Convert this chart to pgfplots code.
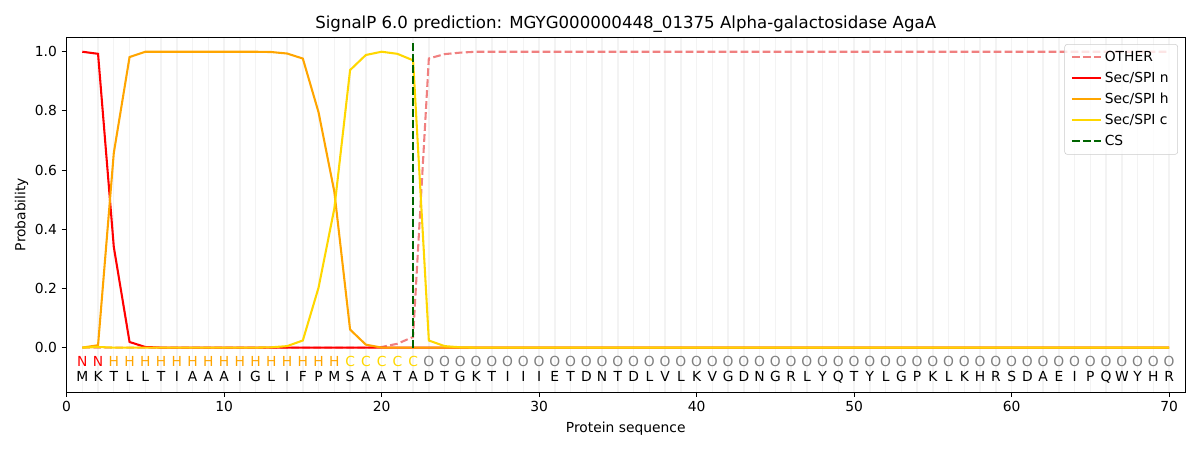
\documentclass[border=0pt]{standalone}
\usepackage{fontspec}
\setmainfont{DejaVu Sans}
\usepackage{pgfplots}
\usepackage{pgfplotstable}
\pgfplotsset{compat=1.18}
\definecolor{lcoral}{HTML}{F08080}
\definecolor{mplorange}{HTML}{FFA500}
\definecolor{mplgold}{HTML}{FFD700}
\definecolor{mplgreen}{HTML}{006400}
\definecolor{gridgray}{RGB}{243,243,243}
\definecolor{legedge}{RGB}{204,204,204}

\pgfplotstableread{
x other n h c
1 0.000 1.000 0.000 0.000
2 0.000 0.993 0.008 0.002
3 0.000 0.340 0.658 0.000
4 0.000 0.019 0.982 0.000
5 0.000 0.002 1.000 0.000
6 0.000 0.000 1.000 0.000
7 0.000 0.000 1.000 0.000
8 0.000 0.000 1.000 0.000
9 0.000 0.000 1.000 0.000
10 0.000 0.000 1.000 0.000
11 0.000 0.000 1.000 0.000
12 0.000 0.000 1.000 0.000
13 0.000 0.000 0.999 0.001
14 0.000 0.000 0.994 0.005
15 0.000 0.000 0.977 0.024
16 0.000 0.000 0.795 0.203
17 0.000 0.000 0.527 0.470
18 0.000 0.000 0.061 0.938
19 0.000 0.000 0.010 0.989
20 0.002 0.000 0.000 1.000
21 0.013 0.000 0.000 0.993
22 0.036 0.000 0.000 0.971
23 0.977 0.000 0.000 0.024
24 0.992 0.000 0.000 0.005
25 0.997 0.000 0.000 0.001
26 1.000 0.000 0.000 0.000
27 1.000 0.000 0.000 0.000
28 1.000 0.000 0.000 0.000
29 1.000 0.000 0.000 0.000
30 1.000 0.000 0.000 0.000
31 1.000 0.000 0.000 0.000
32 1.000 0.000 0.000 0.000
33 1.000 0.000 0.000 0.000
34 1.000 0.000 0.000 0.000
35 1.000 0.000 0.000 0.000
36 1.000 0.000 0.000 0.000
37 1.000 0.000 0.000 0.000
38 1.000 0.000 0.000 0.000
39 1.000 0.000 0.000 0.000
40 1.000 0.000 0.000 0.000
41 1.000 0.000 0.000 0.000
42 1.000 0.000 0.000 0.000
43 1.000 0.000 0.000 0.000
44 1.000 0.000 0.000 0.000
45 1.000 0.000 0.000 0.000
46 1.000 0.000 0.000 0.000
47 1.000 0.000 0.000 0.000
48 1.000 0.000 0.000 0.000
49 1.000 0.000 0.000 0.000
50 1.000 0.000 0.000 0.000
51 1.000 0.000 0.000 0.000
52 1.000 0.000 0.000 0.000
53 1.000 0.000 0.000 0.000
54 1.000 0.000 0.000 0.000
55 1.000 0.000 0.000 0.000
56 1.000 0.000 0.000 0.000
57 1.000 0.000 0.000 0.000
58 1.000 0.000 0.000 0.000
59 1.000 0.000 0.000 0.000
60 1.000 0.000 0.000 0.000
61 1.000 0.000 0.000 0.000
62 1.000 0.000 0.000 0.000
63 1.000 0.000 0.000 0.000
64 1.000 0.000 0.000 0.000
65 1.000 0.000 0.000 0.000
66 1.000 0.000 0.000 0.000
67 1.000 0.000 0.000 0.000
68 1.000 0.000 0.000 0.000
69 1.000 0.000 0.000 0.000
70 1.000 0.000 0.000 0.000
}\probs

\begin{document}
\begin{tikzpicture}
\useasboundingbox (-48.1pt,-41.9pt) rectangle (819.2pt,283.3pt);
\begin{axis}[
  at={(0,0)}, anchor=south west,
  scale only axis, width=808.3pt, height=256.6pt,
  xmin=0, xmax=71, ymin=-0.15, ymax=1.05,
  xtick={0,10,...,70}, ytick={0,0.2,0.4,0.6,0.8,1.0},
  yticklabel style={/pgf/number format/.cd, fixed, fixed zerofill, precision=1},
  /pgf/number format/assume math mode=true,
  ticklabel style={font=\fontsize{10}{12}\selectfont},
  tick align=outside, tick pos=left,
  major tick length=3.5pt,
  every tick/.style={black, line width=0.6pt},
  axis line style={line width=0.6pt},
  minor xtick={1,2,...,70}, xminorgrids=true, minor tick length=0pt,
  minor grid style={gridgray, line width=1pt},
  title={SignalP 6.0 prediction: MGYG000000448\_01375 Alpha-galactosidase AgaA},
  title style={font=\fontsize{12}{14}\selectfont, at={(axis description cs:0.5,1)}, anchor=base, yshift=0pt},
  xlabel={Protein sequence},
  xlabel style={font=\fontsize{10}{12}\selectfont, at={(axis description cs:0.5,-0.104)}, anchor=center},
  ylabel={Probability},
  ylabel style={font=\fontsize{10}{12}\selectfont, at={(axis description cs:-0.0402,0.5)}, anchor=center, rotate=0},
  legend cell align=left,
  legend image code/.code={\draw[#1] (0pt,0pt) -- (21pt,0pt);},
  legend style={at={(axis description cs:0.9938,0.98)}, anchor=north east,
    draw=legedge, rounded corners=2pt, fill=white, fill opacity=0.8, text opacity=1,
    font=\fontsize{10}{12}\selectfont, row sep=2.2pt, inner xsep=4.5pt, inner ysep=3pt},
  mpldash/.style={dash pattern=on 5.55pt off 2.4pt},
]
\addplot[lcoral, line width=1.5pt, mpldash] table[x=x, y=other] {\probs};
\addlegendentry{OTHER}
\addplot[red, line width=1.5pt] table[x=x, y=n] {\probs};
\addlegendentry{Sec/SPI n}
\addplot[mplorange, line width=1.5pt] table[x=x, y=h] {\probs};
\addlegendentry{Sec/SPI h}
\addplot[mplgold, line width=1.5pt] table[x=x, y=c] {\probs};
\addlegendentry{Sec/SPI c}
\addplot[mplgreen, line width=1.5pt, mpldash] coordinates {(22,0) (22,1.04)};
\addlegendentry{CS}

% region labels
\addplot[draw=none, forget plot, nodes near coords, point meta=explicit symbolic,
  every node near coord/.append style={anchor=base, text=red, inner sep=0pt, font=\fontsize{10}{12}\selectfont}]
  coordinates {(1,-0.063)[N] (2,-0.063)[N]};
\addplot[draw=none, forget plot, nodes near coords, point meta=explicit symbolic,
  every node near coord/.append style={anchor=base, text=mplorange, inner sep=0pt, font=\fontsize{10}{12}\selectfont}]
  coordinates {(3,-0.063)[H] (4,-0.063)[H] (5,-0.063)[H] (6,-0.063)[H] (7,-0.063)[H] (8,-0.063)[H] (9,-0.063)[H] (10,-0.063)[H] (11,-0.063)[H] (12,-0.063)[H] (13,-0.063)[H] (14,-0.063)[H] (15,-0.063)[H] (16,-0.063)[H] (17,-0.063)[H]};
\addplot[draw=none, forget plot, nodes near coords, point meta=explicit symbolic,
  every node near coord/.append style={anchor=base, text=mplgold, inner sep=0pt, font=\fontsize{10}{12}\selectfont}]
  coordinates {(18,-0.063)[C] (19,-0.063)[C] (20,-0.063)[C] (21,-0.063)[C] (22,-0.063)[C]};
\addplot[draw=none, forget plot, nodes near coords, point meta=explicit symbolic,
  every node near coord/.append style={anchor=base, text=gray, inner sep=0pt, font=\fontsize{10}{12}\selectfont}]
  coordinates {(23,-0.063)[O] (24,-0.063)[O] (25,-0.063)[O] (26,-0.063)[O] (27,-0.063)[O] (28,-0.063)[O] (29,-0.063)[O] (30,-0.063)[O] (31,-0.063)[O] (32,-0.063)[O] (33,-0.063)[O] (34,-0.063)[O] (35,-0.063)[O] (36,-0.063)[O] (37,-0.063)[O] (38,-0.063)[O] (39,-0.063)[O] (40,-0.063)[O] (41,-0.063)[O] (42,-0.063)[O] (43,-0.063)[O] (44,-0.063)[O] (45,-0.063)[O] (46,-0.063)[O] (47,-0.063)[O] (48,-0.063)[O] (49,-0.063)[O] (50,-0.063)[O] (51,-0.063)[O] (52,-0.063)[O] (53,-0.063)[O] (54,-0.063)[O] (55,-0.063)[O] (56,-0.063)[O] (57,-0.063)[O] (58,-0.063)[O] (59,-0.063)[O] (60,-0.063)[O] (61,-0.063)[O] (62,-0.063)[O] (63,-0.063)[O] (64,-0.063)[O] (65,-0.063)[O] (66,-0.063)[O] (67,-0.063)[O] (68,-0.063)[O] (69,-0.063)[O] (70,-0.063)[O]};
% sequence
\addplot[draw=none, forget plot, nodes near coords, point meta=explicit symbolic,
  every node near coord/.append style={anchor=base, text=black, inner sep=0pt, font=\fontsize{10}{12}\selectfont}]
  coordinates {(1,-0.114)[M] (2,-0.114)[K] (3,-0.114)[T] (4,-0.114)[L] (5,-0.114)[L] (6,-0.114)[T] (7,-0.114)[I] (8,-0.114)[A] (9,-0.114)[A] (10,-0.114)[A] (11,-0.114)[I] (12,-0.114)[G] (13,-0.114)[L] (14,-0.114)[I] (15,-0.114)[F] (16,-0.114)[P] (17,-0.114)[M] (18,-0.114)[S] (19,-0.114)[A] (20,-0.114)[A] (21,-0.114)[T] (22,-0.114)[A] (23,-0.114)[D] (24,-0.114)[T] (25,-0.114)[G] (26,-0.114)[K] (27,-0.114)[T] (28,-0.114)[I] (29,-0.114)[I] (30,-0.114)[I] (31,-0.114)[E] (32,-0.114)[T] (33,-0.114)[D] (34,-0.114)[N] (35,-0.114)[T] (36,-0.114)[D] (37,-0.114)[L] (38,-0.114)[V] (39,-0.114)[L] (40,-0.114)[K] (41,-0.114)[V] (42,-0.114)[G] (43,-0.114)[D] (44,-0.114)[N] (45,-0.114)[G] (46,-0.114)[R] (47,-0.114)[L] (48,-0.114)[Y] (49,-0.114)[Q] (50,-0.114)[T] (51,-0.114)[Y] (52,-0.114)[L] (53,-0.114)[G] (54,-0.114)[P] (55,-0.114)[K] (56,-0.114)[L] (57,-0.114)[K] (58,-0.114)[H] (59,-0.114)[R] (60,-0.114)[S] (61,-0.114)[D] (62,-0.114)[A] (63,-0.114)[E] (64,-0.114)[I] (65,-0.114)[P] (66,-0.114)[Q] (67,-0.114)[W] (68,-0.114)[Y] (69,-0.114)[H] (70,-0.114)[R]};
\end{axis}
\end{tikzpicture}
\end{document}
